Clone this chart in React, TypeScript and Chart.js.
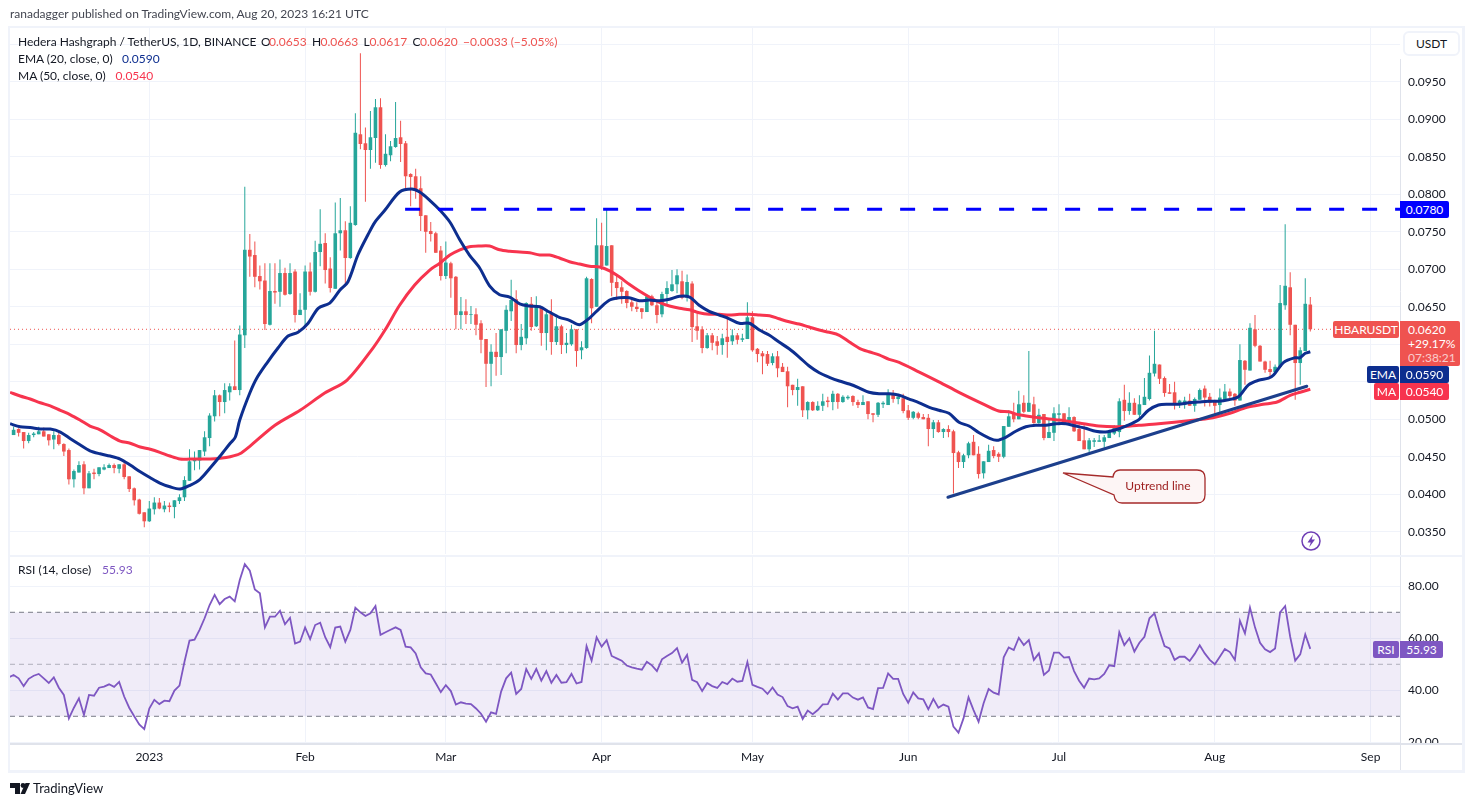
import React, { useEffect, useRef } from "react";
import { Chart, registerables } from "chart.js";

Chart.register(...registerables);

// Prices are in units of 0.0001 USDT. Index 0 is 5 Dec 2022.
const UNIT = 0.0001;
// The readings were taken against a grid placed one unit too low.
const READ_BIAS = 1;
const opens = [478,486,482,470,478,479,483,479,472,478,466,458,419,428,439,407,428,426,432,434,438,433,439,423,407,392,375,363,379,388,379,384,382,390,395,417,443,444,456,474,503,531,522,535,543,538,611,725,718,690,684,625,670,669,694,666,696,638,645,696,669,722,734,700,673,747,751,714,758,879,867,858,874,915,838,851,862,875,867,826,823,807,771,750,747,724,690,707,689,638,643,638,639,627,606,573,589,582,617,643,659,598,607,653,623,649,614,641,602,623,598,599,619,591,594,686,649,731,704,731,682,675,670,655,649,647,642,663,651,639,666,670,679,683,661,680,623,619,594,611,603,598,609,603,611,605,606,635,593,587,586,574,583,569,563,545,538,543,511,522,511,517,524,522,533,522,527,530,522,518,523,507,505,519,518,534,526,527,511,501,507,502,501,486,495,482,486,483,455,442,451,469,453,427,442,458,453,449,489,507,499,521,509,519,494,506,474,481,505,507,497,502,486,471,459,469,469,469,474,480,482,525,510,521,505,518,526,560,572,554,535,535,518,518,524,517,525,540,529,524,518,525,536,533,524,577,564,619,597,576,566,562,569,651,675,625,574,590,652];
const highs = [489,487,482,481,482,489,488,479,483,482,467,460,432,443,443,430,433,435,439,440,440,439,443,423,408,393,375,390,395,394,390,388,391,399,423,459,456,458,483,507,538,532,547,547,604,624,809,746,736,704,707,707,707,712,701,707,699,667,704,708,737,779,747,715,788,794,763,783,907,987,888,910,926,927,879,870,922,897,870,827,833,823,771,762,749,730,736,709,690,662,659,650,647,631,606,599,614,619,651,685,671,626,655,662,663,650,646,659,635,625,614,625,619,603,689,687,767,761,779,731,693,683,671,661,655,647,665,665,658,669,683,698,699,697,692,683,640,623,614,614,610,613,637,619,614,613,655,643,594,590,590,587,590,574,569,545,553,543,523,523,523,533,529,537,534,531,531,531,525,531,523,507,522,523,539,538,533,533,518,510,509,506,506,498,498,487,491,485,457,453,469,478,463,443,465,463,455,490,511,521,537,531,590,529,513,506,499,515,519,507,515,503,493,491,474,474,478,478,485,491,527,545,535,527,531,554,584,617,572,556,546,549,525,529,533,528,540,544,534,525,540,546,540,534,599,578,627,638,598,577,577,572,678,759,695,625,595,687,662];
const lows = [478,476,460,467,475,479,476,464,459,464,450,412,408,428,399,407,419,423,431,434,427,427,419,402,384,372,355,362,372,379,375,375,367,386,390,417,431,432,450,463,496,503,507,524,538,531,594,689,675,672,618,624,653,649,664,665,628,638,624,664,668,703,680,668,673,724,676,713,757,859,789,833,841,833,836,843,861,842,805,783,793,750,721,736,721,684,686,661,619,619,626,626,611,587,542,543,557,558,587,630,587,591,599,617,622,597,591,585,598,586,587,597,569,579,593,627,649,698,704,663,658,653,647,643,642,633,642,650,627,635,650,669,667,659,656,602,605,587,593,591,585,585,581,598,599,602,606,589,575,559,570,571,555,562,515,531,517,502,499,510,510,510,515,511,513,521,525,517,514,518,499,495,502,514,518,521,519,507,498,499,499,499,463,474,481,474,475,400,434,434,447,451,420,420,442,447,442,447,489,495,499,507,509,493,493,471,474,470,491,493,497,482,470,459,455,462,469,461,474,478,475,497,505,505,500,518,524,556,546,529,533,512,514,513,517,509,525,516,516,503,506,525,525,517,524,545,564,595,576,561,556,562,569,645,611,525,545,590,616];
const closes = [485,481,470,478,480,483,476,471,478,466,456,419,430,438,407,427,426,435,435,438,434,439,422,406,391,373,363,380,388,380,384,382,391,395,418,443,446,458,475,504,531,522,538,543,538,612,725,716,689,683,626,670,668,694,665,694,638,645,696,669,722,733,698,674,747,751,714,761,881,866,858,875,915,838,853,863,874,866,823,822,805,770,749,746,721,690,708,687,638,643,638,639,625,605,573,589,582,619,645,658,598,609,654,622,649,614,639,602,623,598,601,619,590,595,687,647,731,703,730,681,674,669,654,649,646,642,663,651,638,666,674,679,691,661,682,622,617,594,611,601,597,607,602,611,605,607,635,591,586,583,573,583,567,562,543,538,542,511,522,511,517,523,522,533,522,529,529,522,518,522,506,505,521,521,534,526,529,510,501,509,501,499,486,495,482,486,482,454,442,451,467,451,426,443,457,450,449,490,503,499,519,509,521,494,505,474,482,507,507,494,502,483,470,459,471,471,471,475,483,488,523,510,521,505,519,529,561,573,553,534,533,518,524,524,517,526,538,528,521,517,528,536,530,524,578,565,621,597,576,565,562,569,654,677,625,574,591,653,619];

// EMA and MA lines at these candle positions.
const emaAt = [-0.7,1.3,3.3,5.3,7.3,9.3,11.3,13.2,15.2,17.2,19.2,21.2,23.2,25.2,27.2,29.1,31.1,33.1,35.1,37.1,39.1,41.1,43.1,44.1,45,47,48.4,50.4,52.6,54.6,56.6,58.6,60.6,62.9,64.9,66.5,68.5,70.5,71.9,73.9,76.8,79.2,80.8,82.8,84.8,86.8,88.8,90.7,92.7,94.7,96.7,98.7,100.7,102.7,104.7,106.6,108.6,110.6,112.6,114.6,116.6,118.6,120.5,122.5,124.5,126.5,128.5,130.5,132.5,134.5,136.4,138.4,140.4,142.4,144.4,146.4,148.4,150.4,152.3,154.3,156.3,158.3,160.3,162.3,164.3,166.3,168.2,170.2,172.2,174.2,176.2,178.2,180.2,182.2,184.1,186.1,188.1,190.1,192.1,194.1,195.6,197.4,199.4,201.4,203.4,205.4,207.4,209.4,211.3,213.3,215.3,217.3,219.3,221.3,223.8,225.8,227.8,229.8,231.8,233.8,235.8,237.7,239.7,241.7,243.7,245.7,247.7,249.7,250.7,252.7,254.9,255.9,257,258];
const emaValues = [493,489,488,486,486,482,473,465,457,453,450,446,438,429,421,414,409,406,411,419,434,450,467,475,498,534,554,574,594,610,615,627,647,654,671,682,718,745,762,778,802,806,802,791,778,762,738,718,701,677,665,662,653,650,649,642,635,631,625,634,647,658,661,661,657,658,657,659,663,662,651,643,638,633,627,627,618,611,602,593,582,570,561,555,550,546,541,535,533,533,531,526,521,515,511,507,495,490,481,474,471,475,483,489,491,491,493,493,490,487,483,482,485,490,498,511,518,519,519,521,522,523,523,525,529,545,551,554,558,575,581,581,587,589];
const maAt = [-0.7,1.3,3.3,5.3,7.3,9.3,11.3,13.2,15.2,17.2,19.2,21.2,23.2,25.2,27.2,29.1,31.1,33.1,35.1,37.1,39.1,41.1,43.1,45,47,52,57,61.9,66.3,71.5,73.9,76.8,79.8,82.8,84.8,86.8,88.8,90.7,92.7,94.7,96.7,98.7,100.7,102.7,104.7,106.6,108.6,110.6,112.6,114.6,116.6,118.6,120.5,122.5,124.5,126.5,128.5,130.5,132.5,134.5,136.4,138.4,140.4,142.4,144.4,146.4,148.4,150.4,152.3,154.3,156.3,158.3,160.3,162.3,164.3,166.3,168.2,170.2,172.2,174.2,176.2,180.2,184.1,188.1,192.1,196,198,200,204,208,212,215.9,219.9,223.9,227.8,233.8,238.6,242,245.4,248.6,251.4,254,256,258];
const maValues = [535,530,526,521,517,511,505,498,490,485,477,470,467,462,459,455,450,446,446,446,446,447,449,453,463,491,511,534,551,594,618,651,678,698,707,718,725,729,730,730,725,723,722,721,718,718,714,709,706,703,702,697,689,679,670,662,655,650,647,645,641,639,639,638,639,639,638,637,633,629,626,622,618,615,611,602,594,589,585,579,575,562,549,535,522,510,509,505,501,498,494,490,489,491,493,497,501,507,515,519,522,531,535,539];

// RSI, one reading per candle, starting one candle before the first one.
const rsiValues = [44.9,45.9,44.6,41.6,44.4,45.6,46.3,44.6,42.8,45.0,41.0,38.2,29.2,33.3,36.9,30.5,38.2,37.9,41.0,41.4,42.3,41.3,43.2,37.6,33.3,30.0,26.9,25.1,33.0,36.3,34.7,36.0,35.8,39.9,41.8,51.0,59.1,59.5,63.2,67.7,72.8,76.7,73.1,75.1,76.0,74.2,82.4,88.5,86.0,78.8,77.3,64.2,68.3,68.3,70.6,65.4,67.9,58.0,58.7,64.2,59.7,65.1,66.0,60.4,56.6,64.1,64.5,58.7,63.2,71.8,70.0,68.6,69.6,72.4,61.3,62.3,63.3,64.2,63.2,56.8,56.5,54.2,48.8,46.5,46.1,42.7,39.3,42.0,39.7,34.5,35.4,34.9,34.7,33.0,31.0,27.9,31.5,30.9,39.5,44.6,46.8,38.6,40.5,48.2,44.4,48.2,43.7,47.4,42.9,45.9,42.9,43.1,46.3,42.6,43.2,57.0,51.4,60.4,56.8,59.3,53.2,52.3,51.4,49.5,48.8,48.3,47.9,51.0,49.6,47.4,51.9,53.2,54.3,56.2,50.6,53.6,44.0,43.1,39.7,42.8,41.6,40.9,43.2,42.4,44.5,43.3,43.6,50.9,42.1,41.3,40.6,38.6,41.1,38.4,37.4,33.9,33.1,33.7,29.0,32.2,30.8,32.4,34.6,34.7,38.7,36.4,38.8,38.8,37.2,36.4,37.3,33.4,32.8,40.8,40.9,46.5,44.4,44.4,38.6,35.2,39.2,36.9,36.5,32.7,36.7,33.3,34.5,33.7,26.0,23.7,29.2,37.3,32.4,27.9,35.0,40.5,39.1,38.4,52.7,56.5,55.5,60.2,57.4,59.3,51.7,54.2,45.9,47.6,54.5,54.5,52.6,52.8,47.4,43.7,41.0,44.5,44.2,44.6,46.3,49.6,49.3,62.3,57.4,60.0,54.9,58.3,60.6,67.7,69.6,62.9,57.0,56.1,51.7,52.9,52.9,51.3,54.0,57.3,54.2,51.7,50.0,52.9,55.9,54.7,51.7,66.7,61.9,71.8,64.2,58.3,55.8,54.7,56.1,70.0,72.4,60.6,51.4,53.8,61.5,55.93];

const trendAt = [185.9, 257.3];
const trendValues = [395, 543];
const levelAt = [77.9, 275.85];
const levelValue = 780;
const lastPrice = 620;

const priceTicks = [0.035,0.04,0.045,0.05,0.055,0.06,0.065,0.07,0.075,0.08,0.085,0.09,0.095,0.1];
const rsiTicks = [20,40,60,80];
const monthAt = [27,58,86,117,147,178,208,239,270];
const monthLabels = ["2023","Feb","Mar","Apr","May","Jun","Jul","Aug","Sep"];

const X_MIN = -0.716;
const X_MAX = 275.85;
const UP = "#26a69a";
const DOWN = "#ef5350";
const GRID = "#f0f3fa";
const AXIS = "#e0e3eb";
const TEXT = "#131722";
const PURPLE = "#7e57c2";
const FONT = "Lato, 'Noto Sans', sans-serif";

const read = (u: number) => (u + READ_BIAS) * UNIT;
const pairs = (xs: number[], ys: number[]) => xs.map((x, i) => ({ x, y: read(ys[i]) }));
const flatLine = (v: number) => [X_MIN, X_MAX].map((x) => ({ x, y: v }));

function xScale(showLabels: boolean) {
  return {
    type: "linear",
    min: X_MIN,
    max: X_MAX,
    offset: false,
    afterBuildTicks: (s: any) => { s.ticks = monthAt.map((v) => ({ value: v })); },
    afterFit: (s: any) => {
      s.height = showLabels ? 27 : 0;
      s.paddingLeft = 0; s.paddingRight = 0;
    },
    grid: { color: GRID, drawTicks: false, offset: false },
    border: { display: false },
    ticks: {
      display: showLabels,
      autoSkip: false,
      maxRotation: 0,
      padding: 7,
      color: TEXT,
      font: { family: FONT, size: 12 },
      callback: (_: any, i: number) => monthLabels[i],
    },
  };
}

function yScale(min: number, max: number, values: number[], digits: number) {
  return {
    type: "linear",
    position: "right",
    min,
    max,
    afterBuildTicks: (s: any) => { s.ticks = values.map((v) => ({ value: v })); },
    afterFit: (s: any) => { s.width = 62; s.paddingTop = 0; s.paddingBottom = 0; },
    grid: { color: GRID, drawTicks: false },
    border: { color: AXIS, width: 1 },
    ticks: {
      padding: 8,
      color: TEXT,
      font: { family: FONT, size: 12 },
      callback: (v: any) => Number(v).toFixed(digits),
    },
  };
}

function PriceCanvas() {
  const ref = useRef<HTMLCanvasElement>(null);
  useEffect(() => {
    const colors = opens.map((o, i) => (closes[i] >= o ? UP : DOWN));
    const chart = new Chart(ref.current as any, {
      type: "bar",
      data: {
        datasets: [
          { type: "line", order: 6, data: flatLine(lastPrice * UNIT), borderColor: DOWN, borderWidth: 1, borderDash: [1, 3], pointRadius: 0 },
          { order: 5, grouped: false, maxBarThickness: 1, data: opens.map((_, i) => ({ x: i, y: [read(lows[i]), read(highs[i])] })), backgroundColor: colors },
          { order: 4, grouped: false, barPercentage: 1, categoryPercentage: 0.72, data: opens.map((o, i) => ({ x: i, y: [read(o), read(closes[i])] })), backgroundColor: colors },
          { type: "line", order: 3, data: pairs(maAt, maValues), borderColor: "#f7344e", borderWidth: 3, pointRadius: 0, tension: 0.3 },
          { type: "line", order: 2, data: pairs(emaAt, emaValues), borderColor: "#0d2e8f", borderWidth: 3, pointRadius: 0, tension: 0.3 },
          { type: "line", order: 1, data: pairs(trendAt, trendValues), borderColor: "#1c3f8c", borderWidth: 3, pointRadius: 0, borderCapStyle: "round" },
          { type: "line", order: 0, data: flatLine(levelValue * UNIT).map((p, i) => ({ x: levelAt[i], y: p.y })), borderColor: "#0000ff", borderWidth: 3, borderDash: [15, 18], pointRadius: 0 },
        ] as any,
      },
      options: {
        responsive: false,
        animation: false,
        events: [],
        layout: { padding: { left: 10, top: 28, right: 12, bottom: 2 } },
        plugins: { legend: { display: false }, tooltip: { enabled: false } },
        scales: { x: xScale(false) as any, y: yScale(0.03204, 0.10217, priceTicks, 4) as any },
      },
    });
    return () => chart.destroy();
  }, []);
  return <canvas ref={ref} width={1474} height={556} style={{ position: "absolute", left: 0, top: 0, width: 1474, height: 556 }} />;
}

function RsiCanvas() {
  const ref = useRef<HTMLCanvasElement>(null);
  useEffect(() => {
    const chart = new Chart(ref.current as any, {
      type: "line",
      data: {
        datasets: [
          { order: 5, data: flatLine(70), borderColor: "#787b86", borderWidth: 1, borderDash: [5, 4], pointRadius: 0, fill: { value: 30 }, backgroundColor: "rgba(126,87,194,0.115)" },
          { order: 4, data: flatLine(50), borderColor: "rgba(120,123,134,0.55)", borderWidth: 1, borderDash: [5, 4], pointRadius: 0 },
          { order: 3, data: flatLine(30), borderColor: "#787b86", borderWidth: 1, borderDash: [5, 4], pointRadius: 0 },
          { order: 0, data: rsiValues.map((v, i) => ({ x: i - 1, y: v })), borderColor: PURPLE, borderWidth: 1.8, pointRadius: 0, tension: 0 },
        ] as any,
      },
      options: {
        responsive: false,
        animation: false,
        events: [],
        layout: { padding: { left: 10, top: 0, right: 12, bottom: 2 } },
        plugins: { legend: { display: false }, tooltip: { enabled: false } },
        scales: { x: xScale(true) as any, y: yScale(19.73, 91.65, rsiTicks, 2) as any },
      },
    });
    return () => chart.destroy();
  }, []);
  return <canvas ref={ref} width={1474} height={216} style={{ position: "absolute", left: 0, top: 556, width: 1474, height: 216 }} />;
}

function T(p: { x: number; y: number; c?: string; s?: number; children: any }) {
  return (
    <span style={{ position: "absolute", left: p.x, top: p.y, transform: "translateY(-50%)", color: p.c || TEXT, fontSize: p.s || 12, lineHeight: 1, whiteSpace: "nowrap" }}>
      {p.children}
    </span>
  );
}

function Tag(p: { x: number; y: number; w: number; h: number; bg: string; r?: string; children: any }) {
  return (
    <div style={{ position: "absolute", left: p.x, top: p.y, width: p.w, height: p.h, background: p.bg, borderRadius: p.r || "2px", color: "#fff", fontSize: 12, lineHeight: p.h + "px", textAlign: "center", whiteSpace: "nowrap" }}>
      {p.children}
    </div>
  );
}

function Box(p: { x: number; y: number; w: number; h: number; bg: string }) {
  return <div style={{ position: "absolute", left: p.x, top: p.y, width: p.w, height: p.h, background: p.bg }} />;
}

export default function App() {
  return (
    <div style={{ position: "absolute", left: 0, top: 0, width: 1474, height: 806, background: "#fff", overflow: "hidden", fontFamily: FONT }}>
      <PriceCanvas />
      <RsiCanvas />

      <Box x={1401} y={743} w={61} h={3} bg="#fff" />
      <Box x={10} y={743} w={1452} h={2} bg={AXIS} />
      <Box x={10} y={555} w={1452} h={2} bg={GRID} />
      <Box x={1400} y={743} w={1} h={27} bg={AXIS} />
      <Box x={9} y={26} w={1456} h={2} bg={GRID} />
      <Box x={9} y={770} w={1456} h={3} bg={GRID} />
      <Box x={8} y={26} w={2} h={747} bg={GRID} />
      <Box x={1462} y={26} w={3} h={747} bg={GRID} />

      <Box x={1400} y={28} w={4} h={31} bg="#fff" />
      <div style={{ position: "absolute", left: 1403, top: 31, width: 53, height: 21, background: "#fff", border: "2px solid #f0f3fa", borderRadius: 6, color: TEXT, fontSize: 12, lineHeight: "22px", textAlign: "center" }}>USDT</div>

      <T x={10} y={14} c="#434651">ranadagger published on TradingView.com, Aug 20, 2023 16:21 UTC</T>
      <T x={18} y={42}>Hedera Hashgraph / TetherUS, 1D, BINANCE</T>
      <T x={261} y={42}>O</T><T x={269} y={42} c={DOWN}>0.0653</T>
      <T x={312} y={42}>H</T><T x={320.5} y={42} c={DOWN}>0.0663</T>
      <T x={363.5} y={42}>L</T><T x={369.5} y={42} c={DOWN}>0.0617</T>
      <T x={412.5} y={42}>C</T><T x={420} y={42} c={DOWN}>0.0620</T>
      <T x={463} y={42} c={DOWN}>−0.0033 (−5.05%)</T>
      <T x={18} y={59}>EMA (20, close, 0)</T><T x={122} y={59} c="#0d2e8f">0.0590</T>
      <T x={18} y={76}>MA (50, close, 0)</T><T x={115.6} y={76} c="#f7344e">0.0540</T>
      <T x={18} y={570}>RSI (14, close)</T><T x={102} y={570} c={PURPLE}>55.93</T>

      <Tag x={1400} y={201} w={49} h={17} bg="#0000ff" r="0 2px 2px 0">0.0780</Tag>
      <Tag x={1333} y={321} w={66} h={17} bg={DOWN}>HBARUSDT</Tag>
      <div style={{ position: "absolute", left: 1400, top: 321, width: 60, height: 45, background: DOWN, borderRadius: "0 2px 2px 0", color: "#fff", fontSize: 12 }}>
        <span style={{ position: "absolute", left: 8, top: 2, lineHeight: "14px" }}>0.0620</span>
        <span style={{ position: "absolute", left: 8, top: 16, lineHeight: "14px" }}>+29.17%</span>
        <span style={{ position: "absolute", left: 8, top: 30, lineHeight: "14px", opacity: 0.7 }}>07:38:21</span>
      </div>
      <Tag x={1367} y={366} w={32} h={17} bg="#0d2e8f">EMA</Tag>
      <Tag x={1400} y={366} w={49} h={17} bg="#0d2e8f" r="0 2px 2px 0">0.0590</Tag>
      <Tag x={1374} y={383} w={25} h={17} bg="#f7344e">MA</Tag>
      <Tag x={1400} y={383} w={49} h={17} bg="#f7344e" r="0 2px 2px 0">0.0540</Tag>
      <Tag x={1373} y={641} w={26} h={17} bg={PURPLE}>RSI</Tag>
      <Tag x={1400} y={641} w={43} h={17} bg={PURPLE} r="0 2px 2px 0">55.93</Tag>

      <svg width={1474} height={806} style={{ position: "absolute", left: 0, top: 0, pointerEvents: "none" }}>
        <path d="M1063 473 L1113 477 Q1114 470 1120 470 L1197 470 Q1205 470 1205 478 L1205 495 Q1205 503 1197 503 L1122 503 Q1115 503 1114 495 Z" fill="#fdf5f5" stroke="#a52a2a" strokeWidth={1.3} />
        <text x={1158} y={490} fontSize={12} fill="#9c1c1c" textAnchor="middle" fontFamily={FONT}>Uptrend line</text>
        <circle cx={1311} cy={541} r={9} fill="#fff" stroke="#6f3fb5" strokeWidth={1.5} />
        <path d="M1313 534.5 L1307.5 542.5 L1310.8 542.5 L1309 547.5 L1315 539.5 L1311.7 539.5 Z" fill="#6f3fb5" />
        <path d="M10 783 H20 V794 H15 V788 H10 Z" fill="#131722" />
        <circle cx={23} cy={785.5} r={2.4} fill="#131722" />
        <path d="M25.5 783 H30 L25 794 H20.5 Z" fill="#131722" />
      </svg>
      <T x={33} y={788} s={13} c="#131722">TradingView</T>
    </div>
  );
}
